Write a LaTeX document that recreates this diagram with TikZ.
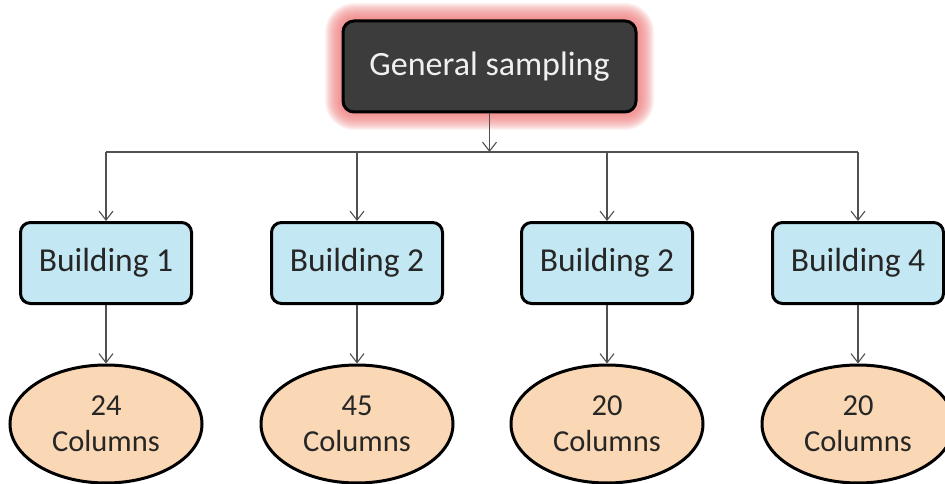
\documentclass[tikz,border=0pt]{standalone}
\usepackage{fontspec}
\setmainfont{Carlito}
\usetikzlibrary{arrows.meta,shapes.geometric,positioning}
\definecolor{topfill}{HTML}{3C3C3C}
\definecolor{glowc}{HTML}{EE7A7A}
\definecolor{bfill}{HTML}{C4E8F3}
\definecolor{efill}{HTML}{FAD8B6}
\definecolor{linec}{HTML}{505050}
\tikzset{
  topbox/.style={draw=black, line width=3pt, fill=topfill, rounded corners=11pt,
    minimum width=293pt, minimum height=91pt, text=white!94!black, font=\fontsize{34}{40}\selectfont},
  bldbox/.style={draw=black, line width=3pt, fill=bfill, rounded corners=10pt,
    minimum width=171pt, minimum height=81pt, text=black!85, font=\fontsize{33.5}{40}\selectfont},
  colell/.style={ellipse, draw=black, line width=3pt, fill=efill,
    minimum width=192pt, minimum height=118pt, inner sep=0pt, align=center, text=black!85,
    font=\fontsize{30.5}{36}\selectfont},
  conn/.style={draw=linec, line width=1.1pt},
  arr/.style={conn, -{Straight Barb[length=9pt,width=14pt,line width=1.1pt]}}
}
\begin{document}
\begin{tikzpicture}[x=1pt,y=-1pt]
\useasboundingbox (0,0) rectangle (945,484);
% glow
\foreach \i in {1,...,18}{
  \fill[glowc, opacity=0.09, rounded corners={11pt+\i pt}]
    (343-\i,21-\i) rectangle (636+\i,112+\i);
}
\node[topbox] (top) at (489.5,66.5) {General sampling};
\node[bldbox] (b1) at (106,263) {Building 1};
\node[bldbox] (b2) at (357,263) {Building 2};
\node[bldbox] (b3) at (607,263) {Building 2};
\node[bldbox] (b4) at (858,263) {Building 4};
\node[colell] (c1) at (106,424) {24\\Columns};
\node[colell] (c2) at (357,424) {45\\Columns};
\node[colell] (c3) at (607,424) {20\\Columns};
\node[colell] (c4) at (858,424) {20\\Columns};
\coordinate (hub) at (489.5,152);
\draw[arr] (top.south) -- (hub);
\draw[conn] (hub) -- (b1.north |- hub) -- (b4.north |- hub);
\foreach \b in {b1,b2,b3,b4}{
  \draw[arr] (\b.north |- hub) -- (\b.north);
}
\foreach \b/\c in {b1/c1,b2/c2,b3/c3,b4/c4}{
  \draw[arr] (\b.south) -- (\c.north);
}
\end{tikzpicture}
\end{document}
